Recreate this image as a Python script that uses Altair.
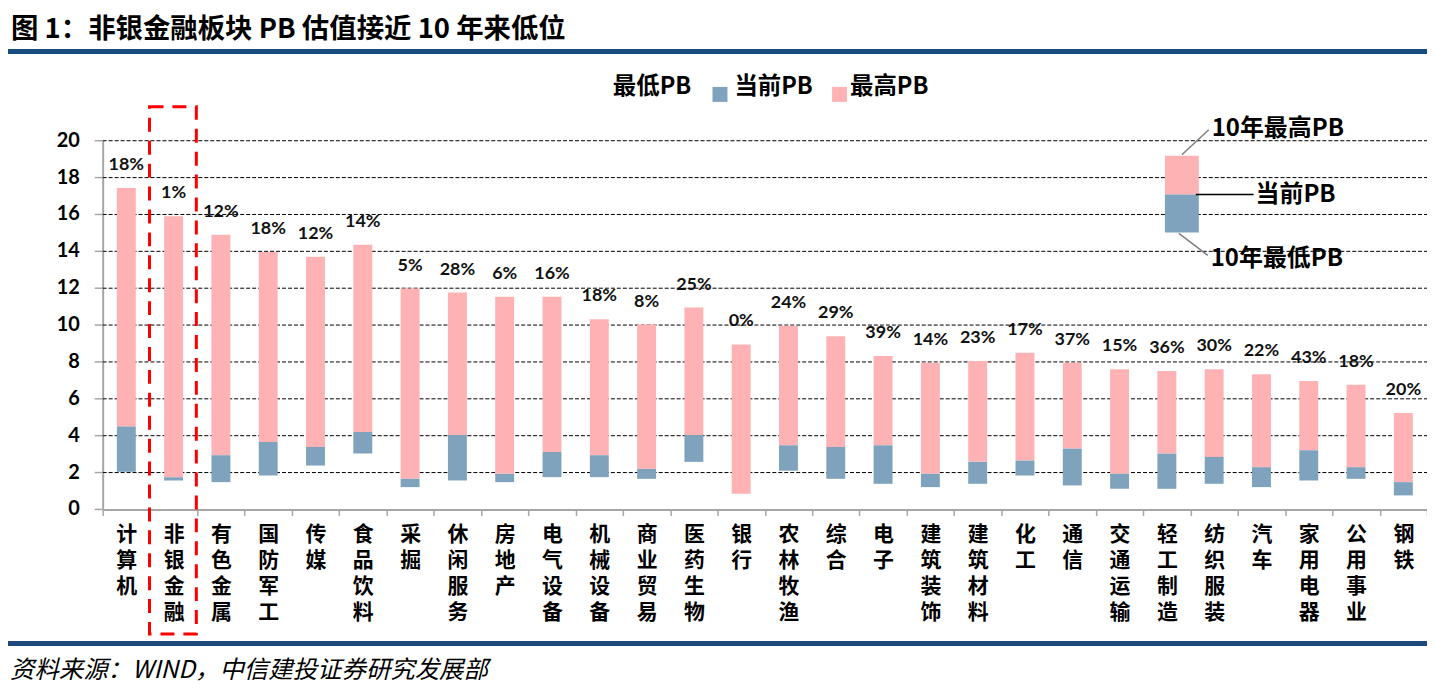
import altair as alt
import pandas as pd

categories = ["计算机", "非银金融", "有色金属", "国防军工", "传媒", "食品饮料", "采掘", "休闲服务",
              "房地产", "电气设备", "机械设备", "商业贸易", "医药生物", "银行", "农林牧渔", "综合",
              "电子", "建筑装饰", "建筑材料", "化工", "通信", "交通运输", "轻工制造", "纺织服装",
              "汽车", "家用电器", "公用事业", "钢铁"]
pb_high = [17.44, 15.9, 14.9, 13.96, 13.7, 14.36, 11.98, 11.77, 11.53, 11.53, 10.32, 10.03, 10.95, 8.95,
           9.96, 9.4, 8.32, 7.96, 8.05, 8.5, 7.96, 7.6, 7.51, 7.6, 7.33, 6.97, 6.76, 5.23]
pb_current = [4.5, 1.75, 2.94, 3.66, 3.39, 4.2, 1.66, 4.04, 1.93, 3.12, 2.94, 2.2, 4.04, 0.85,
              3.48, 3.39, 3.48, 1.93, 2.58, 2.65, 3.3, 1.93, 3.03, 2.85, 2.29, 3.21, 2.29, 1.48]
pb_low = [2.04, 1.57, 1.48, 1.84, 2.38, 3.03, 1.21, 1.57, 1.48, 1.75, 1.75, 1.66, 2.58, 0.85,
          2.1, 1.66, 1.39, 1.21, 1.39, 1.84, 1.3, 1.12, 1.12, 1.39, 1.21, 1.57, 1.66, 0.76]
pct_labels = ["18%", "1%", "12%", "18%", "12%", "14%", "5%", "28%", "6%", "16%", "18%", "8%", "25%", "0%",
              "24%", "29%", "39%", "14%", "23%", "17%", "37%", "15%", "36%", "30%", "22%", "43%", "18%", "20%"]
y_ticks = [0, 2, 4, 6, 8, 10, 12, 14, 16, 18, 20]

title_text = "图 1：非银金融板块 PB 估值接近 10 年来低位"
footer_text = "资料来源：WIND，中信建投证券研究发展部"
legend_labels = ["最低PB", "当前PB", "最高PB"]
note_labels = ["10年最高PB", "当前PB", "10年最低PB"]

PINK = "#FFB2B4"
BLUE = "#7FA3BD"
NAVY = "#174C7E"
AXIS_GREY = "#A6A6A6"
CJK = "Noto Sans CJK SC"

df = pd.DataFrame({"cat": categories, "high": pb_high, "cur": pb_current,
                   "low": pb_low, "pct": pct_labels})
tick_df = pd.DataFrame({"v": y_ticks, "lab": [str(v) for v in y_ticks]})
grid_df = tick_df[tick_df["v"] > 0]

W, H = 1329, 370

xaxis = alt.Axis(title=None, labelAngle=0, labelExpr="split(datum.label, '')",
                 labelFont=CJK, labelFontSize=21, labelFontWeight="bold",
                 labelColor="#000", labelLineHeight=26, labelBaseline="top",
                 labelPadding=8, labelOverlap=False, labelLimit=0,
                 domainColor=AXIS_GREY, domainWidth=2, tickColor=AXIS_GREY,
                 tickSize=6, tickWidth=1.5, tickBand="extent", grid=False)
xscale = alt.Scale(paddingInner=0, paddingOuter=0)
yscale = alt.Scale(domain=[0, 20], nice=False, zero=True)
yaxis = alt.Axis(title=None, grid=False, labels=False, ticks=False,
                 domainColor=AXIS_GREY, domainWidth=2)


def xe():
    return alt.X("cat:N", sort=categories, scale=xscale, axis=xaxis)


def ye(field):
    return alt.Y(field, scale=yscale, axis=yaxis)


# gridlines, ticks and labels of the value axis, from the tick list through the y scale
grid = alt.Chart(grid_df).mark_rule(color="#000", strokeWidth=1, strokeDash=[4, 2]).encode(
    y=ye("v:Q"), x=alt.value(0), x2=alt.value(W))
yticks = alt.Chart(tick_df).mark_rule(color=AXIS_GREY, strokeWidth=1.5).encode(
    y=ye("v:Q"), x=alt.value(-8), x2=alt.value(0))
ylabels = alt.Chart(tick_df).mark_text(font="Lato", fontSize=20, fontWeight="bold", color="#000",
                                       align="right", baseline="middle").encode(
    y=ye("v:Q"), x=alt.value(-23), text="lab:N")

base = alt.Chart(df)
pink = base.mark_bar(size=19, color=PINK).encode(x=xe(), y=ye("cur:Q"), y2="high:Q")
blue = base.mark_bar(size=19, color=BLUE).encode(x=xe(), y=ye("low:Q"), y2="cur:Q")
pct = base.mark_text(font="Lato", fontSize=18, fontWeight="bold", color="#111",
                     baseline="middle", dy=-23).encode(x=xe(), y=ye("high:Q"), text="pct:N")


def txt(s, x, y, size, weight="bold", style="normal", align="left", font=CJK, color="#000"):
    return alt.Chart(pd.DataFrame({"t": [s]})).mark_text(
        font=font, fontSize=size, fontWeight=weight, fontStyle=style, align=align,
        baseline="middle", color=color).encode(text="t:N", x=alt.value(x), y=alt.value(y))


def rect(x, x2, y, y2, **kw):
    return alt.Chart(pd.DataFrame({"a": [0]})).mark_rect(**kw).encode(
        x=alt.value(x), x2=alt.value(x2), y=alt.value(y), y2=alt.value(y2))


def line(x, y, x2, y2, color, width):
    return alt.Chart(pd.DataFrame({"a": [0]})).mark_rule(color=color, strokeWidth=width).encode(
        x=alt.value(x), x2=alt.value(x2), y=alt.value(y), y2=alt.value(y2))


layers = [
    grid, yticks, ylabels,
    pink, blue, pct,
    # title and rules
    txt(title_text, -92, -111, 27.5),
    rect(-95, 1329, -92, -87, color=NAVY),
    rect(-95, 1329, 502, 507, color="#1F497D"),
    txt(footer_text, -93, 532, 24.5, weight="normal", style="italic"),
    # top legend
    txt(legend_labels[0], 512, -54, 23.5),
    rect(612, 627, -54, -39, color=BLUE),
    txt(legend_labels[1], 634, -54, 23.5),
    rect(732, 747, -54, -39, color=PINK),
    txt(legend_labels[2], 750, -54, 23.5),
    # annotation key
    rect(1066, 1100, 15, 54, color=PINK),
    rect(1066, 1100, 54, 92, color=BLUE),
    line(1083, 14, 1110, -11, "#7F7F7F", 1.5),
    line(1097, 54, 1155, 54, "#000", 1.5),
    line(1080, 93, 1109, 115, "#7F7F7F", 1.5),
    txt(note_labels[0], 1113, -12, 24),
    txt(note_labels[1], 1157, 54, 24),
    txt(note_labels[2], 1112, 119, 24),
    # highlight box
    rect(47, 94, -34, 495, fill=None, filled=False, stroke="#FF0000", strokeWidth=3,
         strokeDash=[14, 9]),
]

chart = alt.layer(*layers).properties(
    width=W, height=H,
    autosize=alt.AutoSizeParams(type="none"),
    padding={"left": 95, "top": 132, "right": 0, "bottom": 176},
    background="white",
).configure_view(stroke=None)

chart.save("out.html", embed_options={"renderer": "svg", "actions": False})
